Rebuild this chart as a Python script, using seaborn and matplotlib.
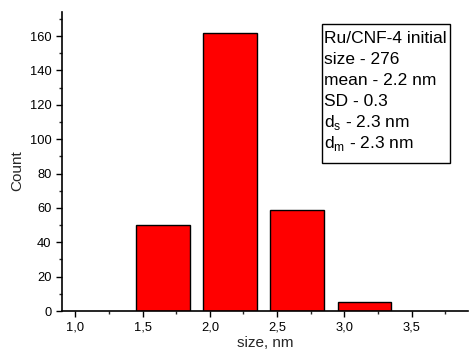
import matplotlib
matplotlib.use("Agg")
import matplotlib.pyplot as plt
from matplotlib.ticker import MultipleLocator, FixedLocator, FixedFormatter
from matplotlib.patches import Rectangle
import seaborn as sns
import pandas as pd

# Particle size distribution data
bin_centers = [1.65, 2.15, 2.65, 3.15]
counts = [50, 162, 59, 5]

x_ticks = [1.0, 1.5, 2.0, 2.5, 3.0, 3.5]
x_tick_labels = ["1,0", "1,5", "2,0", "2,5", "3,0", "3,5"]
y_ticks = [0, 20, 40, 60, 80, 100, 120, 140, 160]

info_lines = [
    "Ru/CNF-4 initial",
    "size - 276",
    "mean - 2.2 nm",
    "SD - 0.3",
    r"d$_\mathregular{s}$ - 2.3 nm",
    r"d$_\mathregular{m}$ - 2.3 nm",
]

sns.set_style("ticks")
plt.rcParams["font.family"] = ["Liberation Sans", "DejaVu Sans"]
plt.rcParams["mathtext.fontset"] = "custom"
plt.rcParams["mathtext.rm"] = "Liberation Sans"

fig = plt.figure(figsize=(4.69, 3.58), dpi=100)
ax = fig.add_axes([62 / 469, 47 / 358, 406 / 469, 299 / 358])

df = pd.DataFrame({"size": bin_centers, "count": counts})
sns.barplot(data=df, x="size", y="count", native_scale=True, width=0.8,
            color="#FF0000", saturation=1, edgecolor="black", linewidth=1.0,
            ax=ax)

ax.set_xlim(0.9, 3.92)
ax.set_ylim(0, 174)

ax.xaxis.set_major_locator(FixedLocator(x_ticks))
ax.xaxis.set_major_formatter(FixedFormatter(x_tick_labels))
ax.xaxis.set_minor_locator(MultipleLocator(0.25))
ax.yaxis.set_major_locator(FixedLocator(y_ticks))
ax.yaxis.set_minor_locator(MultipleLocator(10))

ax.tick_params(which="major", direction="out", length=4.5, width=1.0,
               labelsize=9.3, colors="black", pad=3)
ax.tick_params(which="minor", direction="out", length=2.5, width=1.0)

for side in ("top", "right"):
    ax.spines[side].set_visible(False)
for side in ("left", "bottom"):
    ax.spines[side].set_linewidth(1.2)
    ax.spines[side].set_color("black")

ax.set_xlabel("size, nm", fontsize=11, labelpad=2)
ax.set_ylabel("Count", fontsize=11)
ax.yaxis.set_label_coords(-0.093, 0.47)

# Summary box (figure pixel coordinates converted to fractions)
W, H = 469, 358
fig.patches.append(Rectangle((322 / W, 1 - 163 / H), 128 / W, 139 / H,
                             transform=fig.transFigure, fill=False,
                             edgecolor="black", linewidth=1.0))
baselines = [43, 64, 85, 106, 127, 148]
for line, yb in zip(info_lines, baselines):
    fig.text(324 / W, 1 - yb / H, line, fontsize=12.5, ha="left",
             va="baseline", color="black")

fig.savefig("out.png", dpi=100)
